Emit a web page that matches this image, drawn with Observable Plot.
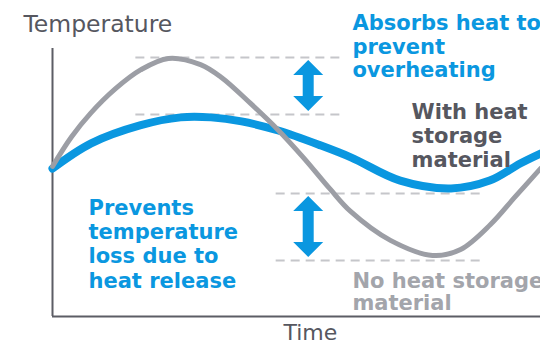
<!DOCTYPE html>
<html>
<head>
<meta charset="utf-8">
<script src="https://cdn.jsdelivr.net/npm/d3@7"></script>
<script src="https://cdn.jsdelivr.net/npm/@observablehq/plot@0.6"></script>
<style>
  html, body { margin: 0; padding: 0; background: #ffffff; overflow: hidden; }
  #chart svg { display: block; }
</style>
</head>
<body>
<div id="chart"></div>
<script>
// Temperature over a day-long cycle, with and without heat storage material.
const noStorageTime = [0, 0.93, 1.87, 3.1, 4.33, 5.7, 7.28, 8.31, 9.74, 11.07, 12.34, 13.67, 14.66, 16.62, 18.69, 20.07, 21.54, 22.77, 24];
const noStorageTemp = [56.0, 67.0, 75.8, 85.0, 92.0, 96.3, 94.0, 89.2, 79.5, 69.8, 59.3, 47.4, 39.2, 28.4, 22.8, 25.0, 34.3, 44.8, 55.2];

const withStorageTime = [0, 1.9, 4.3, 6.3, 7.8, 9.3, 11.1, 13.2, 14.7, 17.1, 19.6, 21.5, 23.0, 24];
const withStorageTemp = [55.2, 64.6, 71.3, 74.3, 74.3, 72.8, 69.4, 63.8, 59.3, 50.7, 47.8, 50.7, 57.1, 60.8];

// Reference levels: peaks and troughs of both curves, with the time span of each guide
const levelNames = ["peak without", "peak with", "trough with", "trough without"];
const levelTemp = [96.6, 75.4, 45.9, 20.9];
const levelStart = [4.1, 4.1, 11.0, 11.0];
const levelEnd = [14.3, 14.3, 21.2, 21.2];

// Double arrows showing the narrowed swing
const arrowTime = [12.6, 12.6];
const arrowHigh = [96.6, 45.9];
const arrowLow = [75.4, 20.9];

const BLUE = "#0a97e0";
const GRAY_LINE = "#9c9ea5";
const DARK = "#56575f";
const LIGHT = "#a3a5ab";
const DASH = "#c5c6ca";
const AXIS = "#5c5d65";

const noStorage = noStorageTime.map((t, i) => ({time: t, temp: noStorageTemp[i]}));
const withStorage = withStorageTime.map((t, i) => ({time: t, temp: withStorageTemp[i]}));
const levels = levelNames.map((name, i) => ({name, temp: levelTemp[i], from: levelStart[i], to: levelEnd[i]}));
const arrows = arrowTime.map((t, i) => ({time: t, high: arrowHigh[i], low: arrowLow[i]}));

// Block-style double-headed arrows drawn through the plot's scales
function doubleArrows(data) {
  return (index, scales) => {
    const g = d3.create("svg:g").attr("fill", BLUE);
    for (const a of data) {
      const cx = scales.x(a.time);
      const top = scales.y(a.high) + 3;
      const bottom = scales.y(a.low) - 3;
      const hw = 15, sw = 5.5, hh = 15;
      g.append("path").attr("d",
        `M${cx},${top}L${cx + hw},${top + hh}L${cx + sw},${top + hh}L${cx + sw},${bottom - hh}` +
        `L${cx + hw},${bottom - hh}L${cx},${bottom}L${cx - hw},${bottom - hh}L${cx - sw},${bottom - hh}` +
        `L${cx - sw},${top + hh}L${cx - hw},${top + hh}Z`);
    }
    return g.node();
  };
}

const bold = {fontFamily: "DejaVu Sans", fontWeight: "bold", fontSize: 21, textAnchor: "start", lineAnchor: "bottom"};

const chart = Plot.plot({
  width: 540,
  height: 344,
  marginLeft: 52,
  marginRight: 0,
  marginTop: 48,
  marginBottom: 28,
  style: {background: "#ffffff", fontFamily: "DejaVu Sans"},
  x: {domain: [0, 24], axis: null},
  y: {domain: [0, 100], axis: null},
  marks: [
    Plot.ruleY(levels, {y: "temp", x1: "from", x2: "to", stroke: DASH, strokeWidth: 2, strokeDasharray: "9,6"}),
    doubleArrows(arrows),
    Plot.ruleX([0], {stroke: AXIS, strokeWidth: 2}),
    Plot.ruleY([0], {stroke: AXIS, strokeWidth: 2}),
    Plot.line(withStorage, {x: "time", y: "temp", stroke: BLUE, strokeWidth: 8, curve: "catmull-rom"}),
    Plot.line(noStorage, {x: "time", y: "temp", stroke: GRAY_LINE, strokeWidth: 5, curve: "catmull-rom"}),
    Plot.text(["Temperature"], {x: -1.43, y: 106.3, text: d => d, fontSize: 23.5, fill: DARK, textAnchor: "start", lineAnchor: "bottom"}),
    Plot.text(["Time"], {x: 11.36, y: -8.6, text: d => d, fontSize: 22, fill: DARK, textAnchor: "start", lineAnchor: "bottom"}),
    Plot.text(["Absorbs heat to\nprevent\noverheating"], {...bold, x: 14.75, y: 89.2, text: d => d, fill: BLUE, lineHeight: 1.12}),
    Plot.text(["With heat\nstorage\nmaterial"], {...bold, x: 17.66, y: 55.6, text: d => d, fill: DARK, lineHeight: 1.143}),
    Plot.text(["Prevents\ntemperature\nloss due to\nheat release"], {...bold, x: 1.77, y: 10.8, text: d => d, fill: BLUE, lineHeight: 1.157}),
    Plot.text(["No heat storage\nmaterial"], {...bold, x: 14.75, y: 2.24, text: d => d, fill: LIGHT, lineHeight: 1.05})
  ]
});

document.getElementById("chart").append(chart);
</script>
</body>
</html>
